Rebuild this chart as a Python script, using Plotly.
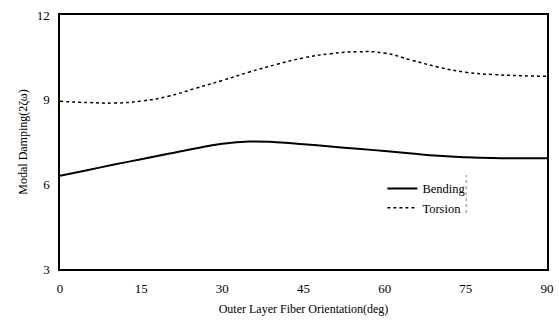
import plotly.graph_objects as go

orientation = [0, 5, 10, 15, 20, 25, 30, 35, 40, 45, 50, 55, 60, 65, 70, 75, 80, 85, 90]
bending = [6.30, 6.50, 6.70, 6.89, 7.08, 7.27, 7.44, 7.52, 7.49, 7.42, 7.34, 7.26, 7.18, 7.09, 7.01, 6.96, 6.93, 6.92, 6.92]
torsion = [8.94, 8.90, 8.88, 8.95, 9.12, 9.40, 9.68, 9.98, 10.25, 10.48, 10.63, 10.70, 10.65, 10.40, 10.15, 9.97, 9.89, 9.85, 9.83]
x_ticks = [0, 15, 30, 45, 60, 75, 90]
y_ticks = [3, 6, 9, 12]

font = "Liberation Serif"
fig = go.Figure()
fig.add_trace(go.Scatter(x=orientation, y=bending, mode="lines", name="Bending",
                         line=dict(color="black", width=2, shape="spline", smoothing=1.3)))
fig.add_trace(go.Scatter(x=orientation, y=torsion, mode="lines", name="Torsion",
                         line=dict(color="black", width=1.5, dash="dot", shape="spline", smoothing=1.3)))

fig.update_layout(
    width=559, height=321,
    margin=dict(l=60, r=12, t=15, b=52),
    paper_bgcolor="white", plot_bgcolor="white",
    font=dict(family=font, size=13, color="black"),
    showlegend=True,
    legend=dict(x=0.662, y=0.375, xanchor="left", yanchor="top",
                bgcolor="rgba(0,0,0,0)", font=dict(family=font, size=12.5),
                tracegroupgap=0, itemwidth=30),
    xaxis=dict(range=[0, 90], tickvals=x_ticks, showgrid=False, zeroline=False,
               showline=True, linecolor="black", linewidth=1.5, mirror=True,
               ticks="", ticklen=0, ticklabelstandoff=7, tickfont=dict(size=13),
               automargin=False,
               title=dict(text="Outer Layer Fiber Orientation(deg)", font=dict(family=font, size=12), standoff=9)),
    yaxis=dict(range=[3, 12], tickvals=y_ticks, showgrid=False, zeroline=False,
               showline=True, linecolor="black", linewidth=1.5, mirror=True,
               ticks="", ticklen=0, ticklabelstandoff=6, tickfont=dict(size=13),
               automargin=False,
               title=dict(text="Modal Damping(2ζω)", font=dict(family=font, size=12), standoff=6)),
    shapes=[dict(type="line", xref="paper", yref="paper", x0=0.834, x1=0.834, y0=0.22, y1=0.37,
                 line=dict(color="gray", width=1, dash="dot"))],
)
fig.write_html("out.html")
